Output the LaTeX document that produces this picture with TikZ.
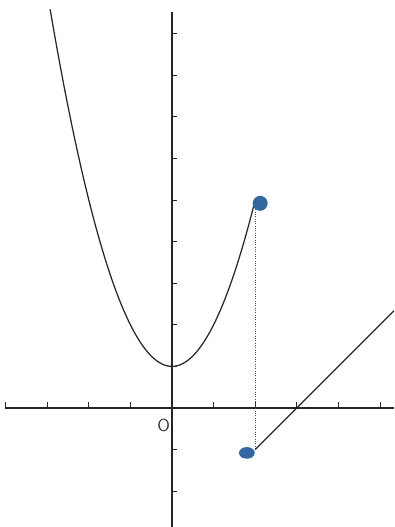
\documentclass[tikz,border=0pt]{standalone}
\usepackage{tikz}
\usetikzlibrary{arrows.meta,positioning,calc,shapes.geometric}
\definecolor{inkblue}{RGB}{52,104,160}
\tikzset{
  axis/.style={line width=0.7pt, black!85},
  tick/.style={line width=0.6pt, black!85},
  graph/.style={line width=0.85pt, black!85},
  blob/.style={circle, fill=inkblue, inner sep=0pt, minimum size=3.6mm},
  guide/.style={densely dotted, line width=0.6pt, black!70}
}
\begin{document}
\begin{tikzpicture}
  \useasboundingbox (-4.135,-2.861) rectangle (5.337,9.808);
  % axes
  \draw[axis] (-4.02,0) -- (5.337,0);
  \draw[axis] (0,-2.861) -- (0,9.52);
  \foreach \x in {-4,-3,-2,-1,1,2,3,4,5}
    \draw[tick] (\x,0) -- (\x,0.14);
  \foreach \y in {-2,-1,1,2,3,4,5,6,7,8,9}
    \draw[tick] (0,\y) -- (0.12,\y);
  \node[font=\sffamily\large, black!80] (o) at (-0.2,-0.42) {O};
  % pieces
  \coordinate (top) at (2,5);
  \coordinate (low) at (2,-1);
  \draw[guide] (top) -- (low);
  \draw[graph] plot[domain=-2.93:2, samples=80, smooth] (\x,{\x*\x+1});
  \draw[graph] (low) -- (5.337,2.337);
  \node[blob] (ptop) at ($(top)+(0.12,-0.08)$) {};
  \node[blob, ellipse, minimum width=3.8mm, minimum height=2.8mm] (plow) at ($(low)+(-0.2,-0.08)$) {};
\end{tikzpicture}
\end{document}
